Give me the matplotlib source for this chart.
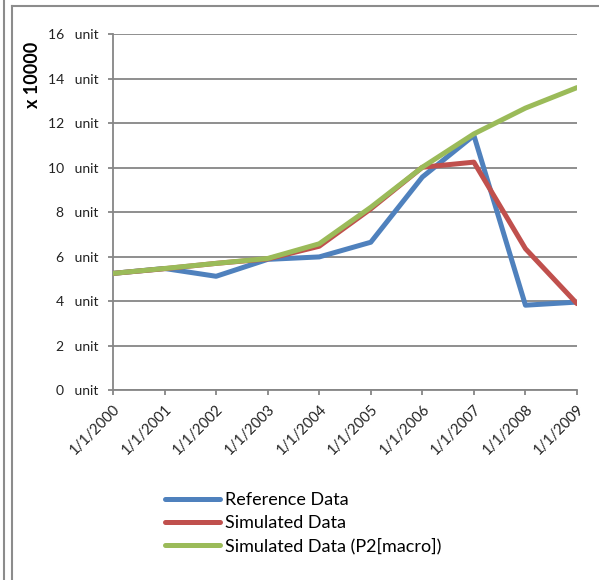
import matplotlib
matplotlib.use("Agg")
import matplotlib.pyplot as plt
from matplotlib.lines import Line2D

# yearly values, in units of 10000
years = ["1/1/2000", "1/1/2001", "1/1/2002", "1/1/2003", "1/1/2004",
         "1/1/2005", "1/1/2006", "1/1/2007", "1/1/2008", "1/1/2009"]
reference = [5.25, 5.47, 5.12, 5.88, 5.99, 6.65, 9.58, 11.45, 3.82, 3.96]
simulated = [5.25, 5.46, 5.70, 5.90, 6.47, 8.15, 10.02, 10.25, 6.36, 3.89]
simulated_p2 = [5.25, 5.47, 5.70, 5.92, 6.58, 8.22, 10.02, 11.52, 12.68, 13.60]
y_ticks = [0, 2, 4, 6, 8, 10, 12, 14, 16]

BLUE = "#4f81bd"
RED = "#c0504d"
GREEN = "#9bbb59"
GRID = "#868686"

plt.rcParams["font.family"] = ["Lato", "DejaVu Sans"]

W, H = 599, 580
fig = plt.figure(figsize=(W / 100, H / 100), dpi=100)
ax = fig.add_axes([113 / W, 1 - 390.2 / H, (577 - 113) / W, (390.2 - 34.2) / H])

x = list(range(len(years)))
line_kw = dict(lw=3.6, solid_capstyle="round", solid_joinstyle="round")
ax.plot(x, reference, color=BLUE, label="Reference Data", zorder=3, **line_kw)
ax.plot(x, simulated, color=RED, label="Simulated Data", zorder=4, **line_kw)
ax.plot(x, simulated_p2, color=GREEN, label="Simulated Data (P2[macro])",
        zorder=5, **line_kw)

ax.set_xlim(0, len(years) - 1)
ax.set_ylim(0, 16)
ax.set_yticks(y_ticks)
ax.set_yticklabels([f"{v}   unit" for v in y_ticks], fontsize=10, color="#222222")
ax.set_xticks(x)
ax.set_xticklabels(years, rotation=45, ha="right", rotation_mode="anchor",
                   fontsize=10.5, color="#222222")

ax.grid(axis="y", color=GRID, lw=1.3)
ax.set_axisbelow(True)
for side in ("top", "right"):
    ax.spines[side].set_visible(False)
for side in ("left", "bottom"):
    ax.spines[side].set_color(GRID)
    ax.spines[side].set_linewidth(1.3)
ax.tick_params(axis="both", color=GRID, width=1.3, length=3.6)
ax.tick_params(axis="y", pad=7)
ax.tick_params(axis="x", pad=5)
ax.patch.set_visible(False)

fig.text(33 / W, 1 - 75 / H, "x 10000", rotation=90, fontsize=13,
         fontweight="bold", ha="center", va="center")

fig.legend(loc="upper left", bbox_to_anchor=(158 / W, 1 - 485 / H),
           frameon=False, fontsize=13, handlelength=3.05, handletextpad=0.28,
           labelspacing=0.38, borderaxespad=0)

# outer frames
frame_kw = dict(color="#8c8c8c", lw=1.5, transform=fig.transFigure)
fig.add_artist(Line2D([3.5 / W, 3.5 / W], [0, 1], **frame_kw))
fig.add_artist(Line2D([12 / W, 12 / W], [0, 1 - 6 / H], **frame_kw))
fig.add_artist(Line2D([12 / W, 1], [1 - 6 / H, 1 - 6 / H], **frame_kw))

fig.savefig("out.png", dpi=100)
